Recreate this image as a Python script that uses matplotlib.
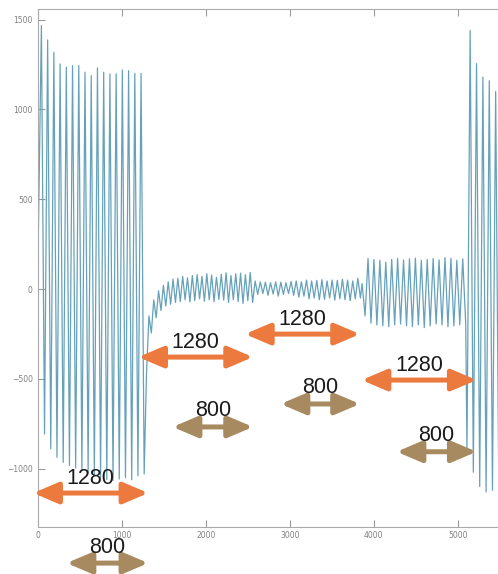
import numpy as np
import matplotlib
matplotlib.use("Agg")
import matplotlib.pyplot as plt

# ---- signal data: alternating extrema per segment, with segment x-range ----
seg1_range = (0, 1262)
seg1_vals = [280, 1467, -807, 1387, -890, 1318, -937, 1253, -965, 1235, -983,
             1244, -996, 1244, -1011, 1207, -1021, 1188, -1039, 1231, -1048,
             1207, -1060, 1198, -1066, 1198, -1058, 1220, -1050, 1216, -1062,
             1201, -1040, 1201, -1030]

seg2_range = (1290, 2555)
seg2_vals = [-470, -150, -245, -60, -160, -10, -120, 20, -95, 40, -85, 55, -75,
             60, -70, 70, -60, 62, -72, 75, -65, 80, -55, 70, -68, 85, -60, 78,
             -70, 65, -58, 82, -62, 90, -75, 75, -60, 85, -70, 88, -80, 80, -65,
             92, -75]

seg3_range = (2585, 3840)
seg3_vals = [45, -30, 40, -25, 38, -35, 35, -28, 40, -40, 38, -30, 35, -25, 42,
             -35, 45, -45, 40, -40, 50, -55, 45, -50, 48, -60, 52, -58, 45, -50,
             50, -62, 48, -55, 55, -60, 50, -65, 45, -55, 60, -50]

seg4_range = (3860, 5095)
seg4_vals = [30, -150, 170, -190, 165, -200, 160, -205, 150, -210, 165, -200,
             170, -195, 162, -205, 168, -210, 172, -200, 160, -215, 165, -205,
             170, -195, 162, -200, 175, -210, 170, -205, 160, -200, 168, -190]

seg5_range = (5110, 5490)
seg5_vals = [-900, 1440, -1020, 1255, -1100, 1180, -1130, 1160, -1120, 1100,
             -1150]

segments = [(seg1_range, seg1_vals), (seg2_range, seg2_vals),
            (seg3_range, seg3_vals), (seg4_range, seg4_vals),
            (seg5_range, seg5_vals)]

# ---- window annotations: (label, x_left, x_right, y) ----
long_windows = [("1280", -60, 1311, -1136),
                ("1280", 1192, 2559, -379),
                ("1280", 2464, 3834, -251),
                ("1280", 3855, 5225, -507)]
short_windows = [("800", 338, 1311, -1526),
                 ("800", 1602, 2559, -768),
                 ("800", 2889, 3834, -640),
                 ("800", 4272, 5225, -906)]

xticks = [0, 1000, 2000, 3000, 4000, 5000]
yticks = [-1000, -500, 0, 500, 1000, 1500]

fig = plt.figure(figsize=(4.98, 5.74), dpi=100)
ax = fig.add_axes([0.0769, 0.0819, 0.9231, 0.9024])

xs, ys = [], []
for (x0, x1), vals in segments:
    xs.append(np.linspace(x0, x1, len(vals)))
    ys.append(np.asarray(vals, dtype=float))
x = np.concatenate(xs)
y = np.concatenate(ys)
ax.plot(x, y, color="#5d9db6", lw=0.9, alpha=0.95)

ax.set_xlim(0, 5480)
ax.set_ylim(-1325, 1559)
ax.set_xticks(xticks)
ax.set_yticks(yticks)
ax.tick_params(direction="in", length=5, width=0.8, color="#9a9a9a",
               labelsize=5.5, labelcolor="#808080", top=True, right=False)
ax.tick_params(axis="y", pad=4)
ax.tick_params(axis="x", pad=3)
for side in ("left", "bottom", "top"):
    ax.spines[side].set_color("#aaaaaa")
    ax.spines[side].set_linewidth(0.8)
ax.spines["right"].set_visible(False)

def window_arrow(label, xl, xr, yv, color, dy_text):
    ax.annotate("", xy=(xr, yv), xytext=(xl, yv), xycoords="data",
                annotation_clip=False,
                arrowprops=dict(arrowstyle="<|-|>,head_length=0.75,head_width=0.32",
                                mutation_scale=20, lw=3.6, color=color,
                                shrinkA=0, shrinkB=0))
    ax.annotate(label, xy=((xl + xr) / 2, yv), xytext=(0, dy_text),
                textcoords="offset points", ha="center", va="bottom",
                fontsize=15.5, family="Liberation Sans", color="#1a1a1a",
                annotation_clip=False)

for lab, xl, xr, yv in long_windows:
    window_arrow(lab, xl, xr, yv, "#ec7a3e", 3)
for lab, xl, xr, yv in short_windows:
    window_arrow(lab, xl, xr, yv, "#a88a60", 4)

fig.savefig("out.png", dpi=100)
